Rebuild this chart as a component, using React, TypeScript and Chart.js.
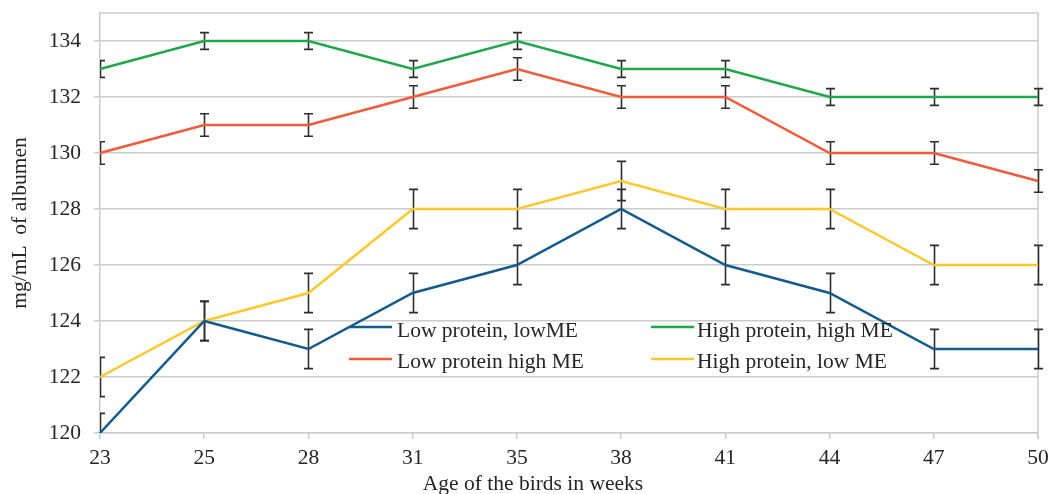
import React, { useEffect, useRef } from "react";
import { Chart, registerables } from "chart.js";

Chart.register(...registerables);

const weeks = ["23", "25", "28", "31", "35", "38", "41", "44", "47", "50"];
const lowProteinLowME = [120, 124, 123, 125, 126, 128, 126, 125, 123, 123];
const highProteinHighME = [133, 134, 134, 133, 134, 133, 133, 132, 132, 132];
const lowProteinHighME = [130, 131, 131, 132, 133, 132, 132, 130, 130, 129];
const highProteinLowME = [122, 124, 125, 128, 128, 129, 128, 128, 126, 126];

const errLowProteinLowME = [0.7, 0.7, 0.7, 0.7, 0.7, 0.7, 0.7, 0.7, 0.7, 0.7];
const errHighProteinHighME = [0.3, 0.3, 0.3, 0.3, 0.3, 0.3, 0.3, 0.3, 0.3, 0.3];
const errLowProteinHighME = [0.4, 0.4, 0.4, 0.4, 0.4, 0.4, 0.4, 0.4, 0.4, 0.4];
const errHighProteinLowME = [0.7, 0.7, 0.7, 0.7, 0.7, 0.7, 0.7, 0.7, 0.7, 0.7];

const seriesNames = ["Low protein, lowME", "High protein, high ME", "Low protein high ME", "High protein, low ME"];
const seriesColors = ["#135a8e", "#1ea84b", "#f25a3a", "#fdc82b"];
const yTicks = { min: 120, max: 135, step: 2 };
const xTitle = "Age of the birds in weeks";
const yTitle = "mg/mL  of albumen";

const FONT = "'Liberation Serif', 'Times New Roman', serif";
const FS = 21.5;
const GRID = "#cbcbcb";
const TEXT = "#262626";

const errorSets = [errLowProteinLowME, errHighProteinHighME, errLowProteinHighME, errHighProteinLowME];

const decorPlugin = {
  id: "decor",
  beforeDatasetsDraw(chart: any) {
    const ctx = chart.ctx;
    const { left, right, top, bottom } = chart.chartArea;
    ctx.save();
    ctx.strokeStyle = GRID;
    ctx.lineWidth = 1.5;
    ctx.beginPath();
    ctx.moveTo(left, top);
    ctx.lineTo(right, top);
    ctx.lineTo(right, bottom + 6);
    ctx.stroke();
    ctx.restore();
    const yScale = chart.scales.y;
    ctx.save();
    ctx.beginPath();
    ctx.rect(left, top - 30, chart.width - left, bottom - top + 30);
    ctx.clip();
    ctx.strokeStyle = "#2e2e2e";
    ctx.lineWidth = 1.6;
    chart.data.datasets.forEach((ds: any, i: number) => {
      const meta = chart.getDatasetMeta(i);
      const errs = errorSets[i];
      meta.data.forEach((pt: any, j: number) => {
        const v = ds.data[j];
        const e = errs[j];
        const x = Math.round(pt.x) + 0.5;
        const y1 = yScale.getPixelForValue(v + e);
        const y2 = yScale.getPixelForValue(v - e);
        ctx.beginPath();
        ctx.moveTo(x, y1);
        ctx.lineTo(x, y2);
        ctx.moveTo(x - 4.5, y1);
        ctx.lineTo(x + 4.5, y1);
        ctx.moveTo(x - 4.5, y2);
        ctx.lineTo(x + 4.5, y2);
        ctx.stroke();
      });
    });
    ctx.restore();
  },
  afterDraw(chart: any) {
    const ctx = chart.ctx;
    ctx.save();
    ctx.fillStyle = TEXT;
    ctx.font = `${FS}px ${FONT}`;
    const cols = [
      { lx: 349, tx: 397 },
      { lx: 651, tx: 697 },
    ];
    const rows = [
      { ly: 327, ty: 337 },
      { ly: 359, ty: 368 },
    ];
    const order = [
      [0, 0, 0],
      [1, 1, 0],
      [2, 0, 1],
      [3, 1, 1],
    ];
    order.forEach(([si, c, r]) => {
      ctx.strokeStyle = seriesColors[si];
      ctx.lineWidth = 2.5;
      ctx.beginPath();
      ctx.moveTo(cols[c].lx, rows[r].ly);
      ctx.lineTo(cols[c].lx + 43, rows[r].ly);
      ctx.stroke();
      ctx.textAlign = "left";
      ctx.textBaseline = "alphabetic";
      ctx.fillText(seriesNames[si], cols[c].tx, rows[r].ty);
    });
    ctx.textAlign = "center";
    ctx.textBaseline = "alphabetic";
    ctx.fillText(xTitle, 533, 490);
    ctx.translate(20, 223);
    ctx.rotate(-Math.PI / 2);
    ctx.textBaseline = "middle";
    ctx.fillText(yTitle, 0, 0);
    ctx.restore();
  },
};

export default function App() {
  const ref = useRef<HTMLCanvasElement>(null);
  useEffect(() => {
    if (!ref.current) return;
    const datasets = [lowProteinLowME, highProteinHighME, lowProteinHighME, highProteinLowME].map((d, i) => ({
      label: seriesNames[i],
      data: d,
      borderColor: seriesColors[i],
      backgroundColor: seriesColors[i],
      borderWidth: 2.5,
      pointRadius: 0,
      tension: 0,
      fill: false,
    }));
    const chart = new Chart(ref.current, {
      type: "line",
      data: { labels: weeks, datasets },
      plugins: [decorPlugin],
      options: {
        animation: false,
        responsive: false,
        devicePixelRatio: 1,
        layout: { padding: { top: 13, right: 13, left: 0, bottom: 0 } },
        plugins: { legend: { display: false }, tooltip: { enabled: false } },
        scales: {
          x: {
            type: "category",
            offset: false,
            grid: { display: true, drawOnChartArea: false, drawTicks: true, tickLength: 6, color: GRID, lineWidth: 1.5 },
            border: { display: true, color: GRID, width: 1.5 },
            ticks: { font: { family: FONT, size: FS }, color: TEXT, padding: 6, maxRotation: 0, autoSkip: false },
            afterFit: (s: any) => {
              s.height = 61;
              s.paddingLeft = 0;
              s.paddingRight = 0;
            },
          },
          y: {
            min: yTicks.min,
            max: yTicks.max,
            grid: { color: GRID, lineWidth: 1.5, tickLength: 6 },
            border: { display: true, color: GRID, width: 1.5 },
            ticks: { stepSize: yTicks.step, includeBounds: false, font: { family: FONT, size: FS }, color: TEXT, padding: 13 },
            afterFit: (s: any) => {
              s.width = 100;
              s.paddingTop = 0;
              s.paddingBottom = 0;
            },
          },
        },
      },
    } as any);
    return () => chart.destroy();
  }, []);
  return (
    <canvas
      ref={ref}
      width={1051}
      height={494}
      style={{ position: "absolute", left: 0, top: 0, width: 1051, height: 494 }}
    />
  );
}
